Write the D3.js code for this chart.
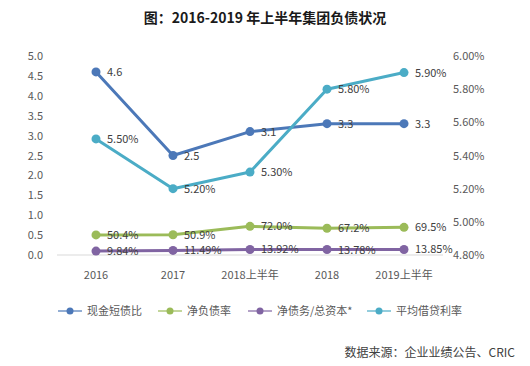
<!DOCTYPE html>
<html><head><meta charset="utf-8">
<script src="https://cdn.jsdelivr.net/npm/d3@7"></script>
<style>body{margin:0;background:#fff;}svg{display:block;font-family:"Noto Sans CJK SC","Microsoft YaHei",sans-serif;}</style>
</head><body><svg id="c" width="530" height="366"></svg>
<script>
const categories = ["2016","2017","2018上半年","2018","2019上半年"];
const cashRatio = [4.6, 2.5, 3.1, 3.3, 3.3];
const netGearing = [50.4, 50.9, 72.0, 67.2, 69.5];
const netDebtCap = [9.84, 11.49, 13.92, 13.78, 13.85];
const avgRate = [5.50, 5.20, 5.30, 5.80, 5.90];
const leftTicks = [0,0.5,1,1.5,2,2.5,3,3.5,4,4.5,5];
const rightTicks = [4.8,5.0,5.2,5.4,5.6,5.8,6.0];
const seriesNames = ["现金短债比","净负债率","净债务/总资本*","平均借贷利率"];
const colors = ["#4c78b8","#9bbb59","#8064a2","#4bacc6"];

const svg = d3.select("#c");
const x = d3.scalePoint().domain(categories).range([96,404]);
const yL = d3.scaleLinear().domain([0,5]).range([255,56]);
const yR = d3.scaleLinear().domain([4.8,6.0]).range([255,56]);

svg.append("text").attr("x",265).attr("y",23).attr("text-anchor","middle")
  .attr("font-size",14).attr("font-weight","bold").attr("fill","#1a1a1a")
  .text("图：2016-2019 年上半年集团负债状况");

const tc = "#595959";
svg.append("g").selectAll("text").data(leftTicks).join("text")
  .attr("x",43).attr("y",d=>yL(d)+4).attr("text-anchor","end")
  .attr("font-size",11).attr("fill",tc).text(d=>d.toFixed(1));
svg.append("g").selectAll("text").data(rightTicks).join("text")
  .attr("x",453).attr("y",d=>yR(d)+4).attr("text-anchor","start")
  .attr("font-size",11).attr("fill",tc).text(d=>d.toFixed(2)+"%");
svg.append("line").attr("x1",57).attr("x2",443).attr("y1",yL(0)).attr("y2",yL(0))
  .attr("stroke","#d9d9d9").attr("stroke-width",1);
svg.append("g").selectAll("text").data(categories).join("text")
  .attr("x",d=>x(d)).attr("y",279).attr("text-anchor","middle")
  .attr("font-size",11).attr("fill",tc).text(d=>d);

const series = [
  {vals:cashRatio, y:d=>yL(d), fmt:d=>d.toFixed(1)},
  {vals:netGearing, y:d=>yL(d/100), fmt:d=>d.toFixed(1)+"%"},
  {vals:netDebtCap, y:d=>yL(d/100), fmt:d=>d.toFixed(2)+"%"},
  {vals:avgRate, y:d=>yR(d), fmt:d=>d.toFixed(2)+"%"}
];
series.forEach((s,i)=>{
  const pts = s.vals.map((v,j)=>[x(categories[j]), s.y(v), v]);
  svg.append("path").attr("d", d3.line()(pts.map(p=>[p[0],p[1]])))
    .attr("fill","none").attr("stroke",colors[i]).attr("stroke-width",3).attr("stroke-linejoin","round");
  svg.append("g").selectAll("circle").data(pts).join("circle")
    .attr("cx",p=>p[0]).attr("cy",p=>p[1]).attr("r",4.5).attr("fill",colors[i]);
  svg.append("g").selectAll("text").data(pts).join("text")
    .attr("x",p=>p[0]+11).attr("y",p=>p[1]+4).attr("font-size",11).attr("fill","#404040")
    .text(p=>s.fmt(p[2]));
});

const legX = [58,158,248,367];
seriesNames.forEach((n,i)=>{
  const g = svg.append("g");
  g.append("line").attr("x1",legX[i]).attr("x2",legX[i]+24).attr("y1",311).attr("y2",311)
    .attr("stroke",colors[i]).attr("stroke-width",1.2);
  g.append("circle").attr("cx",legX[i]+12).attr("cy",311).attr("r",3.5).attr("fill",colors[i]);
  g.append("text").attr("x",legX[i]+29).attr("y",315).attr("font-size",11).attr("fill",tc).text(n);
});

svg.append("text").attr("x",515).attr("y",357).attr("text-anchor","end")
  .attr("font-size",12).attr("fill","#404040").text("数据来源：企业业绩公告、CRIC");
</script></body></html>
